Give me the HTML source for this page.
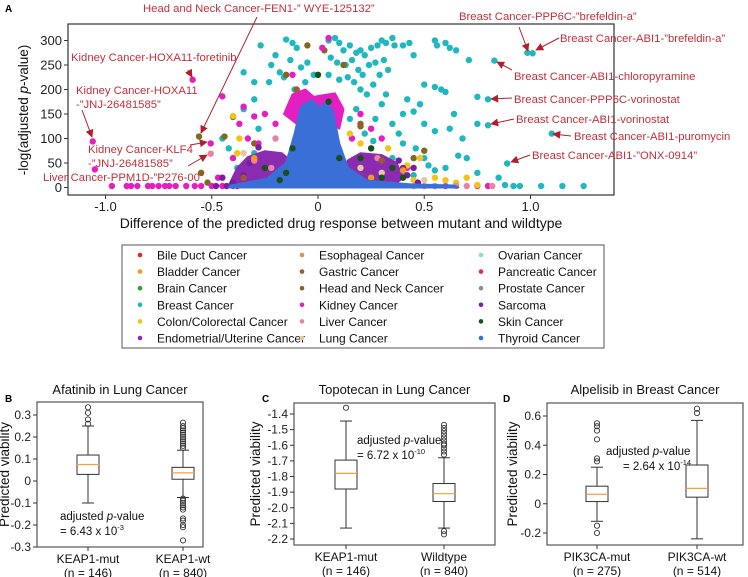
<!DOCTYPE html>
<html><head><meta charset="utf-8"><style>
body{margin:0;background:#fff}
svg{display:block;font-family:"Liberation Sans",Arial,sans-serif}
</style></head><body>
<svg id="fig" width="748" height="577" viewBox="0 0 748 577" xmlns="http://www.w3.org/2000/svg">
<defs><marker id="arr" viewBox="0 0 10 10" refX="9" refY="5" markerWidth="8" markerHeight="8" orient="auto-start-reverse"><path d="M0,0 L10,5 L0,10 z" fill="#b0202c"/></marker></defs>
<g id="volcano"></g>
<g id="legend"></g>
<g id="boxB"></g>
<g id="boxC"></g>
<g id="boxD"></g>
</svg>
<script>
const NS="http://www.w3.org/2000/svg";
function mk(p,t,a,txt){const e=document.createElementNS(NS,t);for(const k in a)e.setAttribute(k,a[k]);if(txt!==undefined)e.textContent=txt;p.appendChild(e);return e;}

// ---------- Volcano data ----------
const cancerTypes=["Bile Duct Cancer","Bladder Cancer","Brain Cancer","Breast Cancer","Colon/Colorectal Cancer","Endometrial/Uterine Cancer","Esophageal Cancer","Gastric Cancer","Head and Neck Cancer","Kidney Cancer","Liver Cancer","Lung Cancer","Ovarian Cancer","Pancreatic Cancer","Prostate Cancer","Sarcoma","Skin Cancer","Thyroid Cancer"];
const cancerColors=["#e8262a","#f39a1e","#2e9e3a","#1fb8c0","#f2c417","#8a2bb0","#d8955e","#9c5a34","#7d6a1c","#e41fc0","#e880a8","#e6c89e","#93e0a6","#e8247a","#8e8e8e","#7a1ea0","#17501e","#3a6fd8"];
const xTicks=[-1.0,-0.5,0,0.5,1.0];
const xTickLabels=["-1.0","-0.5","0","0.5","1.0"];
const yTicks=[0,50,100,150,200,250,300];
const blueMass=[[-0.42,0],[-0.41,4],[-0.24,18],[-0.15,50],[-0.11,110],[-0.08,165],[-0.03,178],[0.01,162],[0.04,176],[0.07,155],[0.10,90],[0.14,41],[0.23,14],[0.45,6],[0.64,4],[0.66,0]];
const magentaMass=[[-0.16,150],[-0.12,190],[-0.06,200],[-0.02,185],[0.02,188],[0.08,192],[0.12,160],[0.1,120],[0.0,150],[-0.1,130]];
const purpleMassL=[[-0.42,4],[-0.38,40],[-0.33,62],[-0.25,74],[-0.17,70],[-0.13,55],[-0.14,20],[-0.2,8],[-0.3,4]];
const purpleMassR=[[0.12,8],[0.14,55],[0.2,70],[0.3,66],[0.37,50],[0.4,20],[0.36,6]];
const breastPts=[[-0.27,290],[-0.15,302],[-0.12,295],[-0.2,270],[-0.22,250],[-0.1,285],[-0.18,235],[-0.13,260],[-0.08,245],[-0.05,255],[-0.23,215],[-0.16,225],[-0.06,215],[-0.11,200],[-0.02,230],[0.05,300],[0.08,305],[0.1,295],[0.12,280],[0.15,290],[0.18,275],[0.2,280],[0.22,270],[0.25,285],[0.28,290],[0.06,265],[0.09,255],[0.13,250],[0.16,260],[0.19,240],[0.21,230],[0.24,250],[0.27,255],[0.3,300],[0.32,295],[0.35,305],[0.05,230],[0.1,220],[0.14,225],[0.17,215],[0.2,200],[0.23,190],[0.26,210],[0.29,230],[0.31,260],[0.33,240],[0.36,290],[0.4,290],[0.43,295],[0.45,270],[0.55,300],[0.56,290],[0.6,295],[0.62,285],[0.65,280],[0.71,260],[0.5,210],[0.55,205],[0.58,200],[0.6,195],[0.64,150],[0.62,120],[0.68,100],[0.66,65],[0.7,60],[0.75,30],[0.85,20],[0.88,5],[0.92,3],[1.05,3],[1.15,3],[1.25,3],[0.95,3],[0.4,150],[0.45,155],[0.5,130],[0.55,115],[0.35,130],[0.38,110],[0.3,170],[0.32,190],[0.42,180],[0.48,170],[0.46,80],[0.5,60],[0.52,45],[0.55,35],[0.6,40],[0.45,25],[0.35,60],[0.4,90],[0.27,140],[0.18,160],[0.15,140],[-0.3,215],[-0.35,235],[-0.3,180],[-0.35,160],[-0.28,120],[-0.42,80],[-0.45,100],[-0.3,70],[-0.38,40],[0.985,275],[1.01,274],[0.83,259],[0.80,180],[0.80,127],[1.10,110],[0.89,49],[0.75,185],[0.75,130],[0.22,110],[0.26,95],[0.3,40],[0.4,30]];
const kidneyPts=[[-0.59,220],[-1.06,94],[-0.505,90],[-1.05,37],[-0.45,186],[-0.35,165],[-0.3,145],[-0.37,130],[-0.25,150],[-0.33,100],[-0.2,130],[-0.28,90],[-0.4,60],[-0.47,20],[-0.97,3],[-0.9,3],[-0.88,3],[-0.85,3],[-0.8,3],[-0.78,3],[-0.75,3],[-0.72,3],[-0.7,3],[-0.67,3],[-0.62,3],[-0.58,3],[-0.55,3],[-0.5,3],[-0.45,3],[-0.4,3],[0.2,150],[0.25,120],[0.05,305],[0.02,285],[0.3,100],[0.16,100],[0.55,3],[0.6,3],[0.75,3],[0.8,3],[0.42,40],[-0.12,230]];
const oliveHN=[[-0.56,104],[-0.4,144],[-0.44,104],[-0.55,30],[-0.52,10],[-0.3,90],[-0.05,290],[0.12,250],[0.03,280],[0.45,60],[0.5,75],[0.2,125],[-0.15,230],[0.35,10],[0.25,40]];
const colonPts=[[-0.4,146],[-0.37,100],[-0.38,70],[-0.33,40],[-0.3,30],[0.15,110],[0.2,90],[0.33,80],[0.35,50],[0.42,45],[0.48,60],[0.55,20],[0.6,15],[0.65,10],[0.7,20],[0.75,5],[0.45,15],[-0.2,30],[-0.25,60]];
const liverPts=[[-0.505,69],[-0.3,55],[-0.2,100],[0.28,60],[0.45,3],[0.5,3],[0.55,3],[0.65,3],[0.7,3],[0.82,3],[-0.22,40]];
const skinPts=[[-0.25,40],[-0.15,30],[-0.12,80],[0.0,230],[0.05,175],[0.1,60],[0.2,60],[0.3,20],[0.35,40],[0.4,20],[-0.18,15],[0.25,80]];
const sarcomaPts=[[-0.45,20],[-0.4,10],[-0.35,25],[-0.32,50],[-0.28,82],[0.38,55],[0.4,40],[0.45,40],[0.42,25],[0.47,10],[-0.48,3],[-0.43,3],[-0.38,3]];
const lungPts=[[-0.35,70],[0.2,40],[0.3,30],[0.5,15]];
const gastricPts=[[-0.35,20],[0.2,130],[0.3,55],[-0.1,200]];
const bladderPts=[[-0.3,60],[0.4,35],[0.25,20]];

(function(){
const g=document.getElementById('volcano');
const L=68,R=614,T=24,B=195;
const X=v=>318+v*212.5, Y=v=>187.5-v*0.49;
mk(g,'text',{x:5,y:12,'font-size':10,'font-weight':'bold',},'A');
const clip=mk(g,'clipPath',{id:'vc'});mk(clip,'rect',{x:L,y:T,width:R-L,height:B-T});
const pg=mk(g,'g',{'clip-path':'url(#vc)',});
function poly(arr,col,name){const p=mk(pg,'polygon',{points:arr.map(d=>X(d[0])+','+Y(d[1])).join(' '),fill:col,stroke:col,'stroke-width':2,'stroke-linejoin':'round'});

}
function pts(arr,ci,name){arr.forEach(d=>{const c=mk(pg,'circle',{cx:X(d[0]),cy:Y(d[1]),r:3.2,fill:cancerColors[ci]});

});}
pts(breastPts,3,'breast-point');
poly(magentaMass,cancerColors[9],'kidney-dense-region');
pts(oliveHN,8,'head-neck-point');
pts(kidneyPts,9,'kidney-point');
pts(colonPts,4,'colon-point');
poly(purpleMassL,cancerColors[5],'endometrial-dense-left');
poly(purpleMassR,cancerColors[5],'endometrial-dense-right');
pts(sarcomaPts,15,'sarcoma-point');
pts(liverPts,10,'liver-point');
pts(lungPts,11,'lung-point');
pts(gastricPts,7,'gastric-point');
pts(bladderPts,1,'bladder-point');
poly(blueMass,cancerColors[17],'thyroid-dense-region');
pts(skinPts,16,'skin-point');
mk(g,'rect',{x:L,y:T,width:R-L,height:B-T,fill:'none',stroke:'#333','stroke-width':1.2,});
xTicks.forEach((t,i)=>{mk(g,'line',{x1:X(t),x2:X(t),y1:B,y2:B+4,stroke:'#333'});
mk(g,'text',{x:X(t),y:B+16,'font-size':13,'text-anchor':'middle',fill:'#222',},xTickLabels[i]);});
yTicks.forEach(t=>{mk(g,'line',{x1:L-4,x2:L,y1:Y(t),y2:Y(t),stroke:'#333'});
mk(g,'text',{x:L-6,y:Y(t)+4.5,'font-size':13,'text-anchor':'end',fill:'#222',},String(t));});
mk(g,'text',{x:341,y:228,'font-size':14,'text-anchor':'middle',fill:'#111',},'Difference of the predicted drug response between mutant and wildtype');
const yt=mk(g,'text',{x:0,y:0,'font-size':13.5,'text-anchor':'middle',fill:'#111',transform:'translate(28,110) rotate(-90)',});
yt.innerHTML='-log(adjusted <tspan font-style="italic">p</tspan>-value)';
const ann=[
 [['Head and Neck Cancer-FEN1-\u201d WYE-125132\u201d'],143,12,[257,17],[201,133]],
 [['Kidney Cancer-HOXA11-foretinib'],71,61,[188,70],[192,77]],
 [['Kidney Cancer-HOXA11','-\u201dJNJ-26481585\u201d'],76,94,[82,110],[92,137]],
 [['Kidney Cancer-KLF4','      -\u201dJNJ-26481585\u201d'],88,153,[190,145],[207,142]],
 [['Liver Cancer-PPM1D-\u201dP276-00\u201d'],43,181,[188,166],[207,155]],
 [['Breast Cancer-PPP6C-\u201dbrefeldin-a\u201d'],459,20,[519,27],[528,51]],
 [['Breast Cancer-ABI1-\u201dbrefeldin-a\u201d'],560,42,[559,38],[536,50]],
 [['Breast Cancer-ABI1-chloropyramine'],514,80,[512,70],[497,62]],
 [['Breast Cancer-PPP6C-vorinostat'],514,103,[512,98],[491,99]],
 [['Breast Cancer-ABI1-vorinostat'],516,123,[514,119],[491,124]],
 [['Breast Cancer-ABI1-puromycin'],574,140,[571,136],[553,134]],
 [['Breast Cancer-ABI1-\u201dONX-0914\u201d'],532,159,[530,155],[511,162]]];
ann.forEach(a=>{a[0].forEach((s,i)=>{mk(g,'text',{x:a[1],y:a[2]+i*14,'font-size':11.3,fill:'#c2303c','xml:space':'preserve',},s);});
mk(g,'line',{x1:a[3][0],y1:a[3][1],x2:a[4][0],y2:a[4][1],stroke:'#b0202c','stroke-width':1,'marker-end':'url(#arr)',});});
})();

// ---------- Legend ----------
(function(){
const g=document.getElementById('legend');
mk(g,'rect',{x:122,y:245,width:482,height:103,fill:'#fff',stroke:'#555',});
const colX=[140,302,481];
cancerTypes.forEach((n,i)=>{const c=Math.floor(i/6),r=i%6,y=255+r*16.6;
const e=mk(g,'g',{});


mk(e,'circle',{cx:colX[c],cy:y,r:2.3,fill:cancerColors[i]});
mk(e,'text',{x:colX[c]+17,y:y+4.5,'font-size':12,fill:'#111'},n);});
})();

// ---------- Box plots ----------
const afatinibGroups=["KEAP1-mut","KEAP1-wt"];
const afatinibN=["(n = 146)","(n = 840)"];
const afatinibStats=[[-0.1,0.03,0.075,0.118,0.25],[-0.075,0.008,0.037,0.062,0.14]];
const afatinibOut=[[0.26,0.28,0.31,0.335],[0.15,0.16,0.17,0.18,0.19,0.2,0.21,0.22,0.23,0.24,0.25,0.265,-0.08,-0.09,-0.1,-0.11,-0.12,-0.13,-0.17,-0.18,-0.2,-0.21,-0.27]];
const afatinibTicks=[-0.3,-0.2,-0.1,0,0.1,0.2,0.3];
const topoGroups=["KEAP1-mut","Wildtype"];
const topoN=["(n = 146)","(n = 840)"];
const topoStats=[[-2.13,-1.88,-1.78,-1.695,-1.445],[-2.13,-1.96,-1.91,-1.845,-1.68]];
const topoOut=[[-1.36],[-1.47,-1.49,-1.51,-1.53,-1.55,-1.57,-1.59,-1.6,-1.62,-1.64,-1.66,-2.15,-2.17]];
const topoTicks=[-2.2,-2.1,-2.0,-1.9,-1.8,-1.7,-1.6,-1.5,-1.4];
const alpGroups=["PIK3CA-mut","PIK3CA-wt"];
const alpN=["(n = 275)","(n = 514)"];
const alpStats=[[-0.12,0.015,0.065,0.12,0.25],[-0.24,0.045,0.105,0.265,0.57]];
const alpOut=[[0.29,0.31,0.44,0.5,0.53,0.55,-0.15,-0.2],[0.62,0.65]];
const alpTicks=[-0.2,0,0.2,0.4,0.6];

function boxPlot(id,o){
const g=document.getElementById(id);
mk(g,'text',{x:o.px,y:402,'font-size':10,'font-weight':'bold',},o.letter);
mk(g,'text',{x:(o.L+o.R)/2,y:394,'font-size':13,'text-anchor':'middle',fill:'#111',},o.title);
const Y=v=>o.y0+(v-o.v0)*(o.y1-o.y0)/(o.v1-o.v0);
mk(g,'rect',{x:o.L,y:o.T,width:o.R-o.L,height:o.B-o.T,fill:'none',stroke:'#555','stroke-width':1.2,});
o.ticks.forEach(t=>{mk(g,'line',{x1:o.L-4,x2:o.L,y1:Y(t),y2:Y(t),stroke:'#333'});
mk(g,'text',{x:o.L-6,y:Y(t)+4,'font-size':12,'text-anchor':'end',fill:'#222',},o.fmt(t));});
mk(g,'text',{x:0,y:0,'font-size':13.5,'text-anchor':'middle',fill:'#111',transform:`translate(${o.L-o.ytOff},${(o.T+o.B)/2}) rotate(-90)`,},'Predicted viability');
o.stats.forEach((s,i)=>{const cx=o.xs[i],w=11;
const bg=mk(g,'g',{});


mk(bg,'line',{x1:cx,x2:cx,y1:Y(s[0]),y2:Y(s[1]),stroke:'#333'});
mk(bg,'line',{x1:cx,x2:cx,y1:Y(s[3]),y2:Y(s[4]),stroke:'#333'});
mk(bg,'line',{x1:cx-6,x2:cx+6,y1:Y(s[0]),y2:Y(s[0]),stroke:'#333'});
mk(bg,'line',{x1:cx-6,x2:cx+6,y1:Y(s[4]),y2:Y(s[4]),stroke:'#333'});
mk(bg,'rect',{x:cx-w,y:Y(s[3]),width:2*w,height:Y(s[1])-Y(s[3]),fill:'#fff',stroke:'#333'});
mk(bg,'line',{x1:cx-w,x2:cx+w,y1:Y(s[2]),y2:Y(s[2]),stroke:'#f0a040','stroke-width':1.2});
o.out[i].forEach(v=>{const c=mk(bg,'circle',{cx:cx,cy:Y(v),r:2.6,fill:'none',stroke:'#333','stroke-width':0.9});

});
mk(g,'line',{x1:cx,x2:cx,y1:o.B,y2:o.B+4,stroke:'#333'});
mk(g,'text',{x:cx,y:o.B+16,'font-size':12,'text-anchor':'middle',fill:'#111',},o.groups[i]);
mk(g,'text',{x:cx,y:o.B+30,'font-size':12,'text-anchor':'middle',fill:'#111',},o.ns[i]);});
const a=mk(g,'text',{x:o.ax,y:o.ay,'font-size':11.5,fill:'#111',});
a.innerHTML='adjusted <tspan font-style="italic">p</tspan>-value';
const b=mk(g,'text',{x:o.ax+o.bdx,y:o.ay+15,'font-size':11.5,fill:'#111',});
b.innerHTML='= '+o.pv+' x 10<tspan font-size="7.5" dy="-5">'+o.pe+'</tspan>';
}
boxPlot('boxB',{letter:'B',px:5,title:'Afatinib in Lung Cancer',L:37,R:203,T:402,B:547,v0:0.3,y0:415,v1:-0.3,y1:547,ticks:afatinibTicks,fmt:t=>t===0?'0':t.toFixed(1),xs:[88,183],stats:afatinibStats,out:afatinibOut,groups:afatinibGroups,ns:afatinibN,ax:60,ay:520,bdx:0,pv:'6.43',pe:'-3',ytOff:28});
boxPlot('boxC',{letter:'C',px:262,title:'Topotecan in Lung Cancer',L:294,R:495,T:403,B:545,v0:-1.4,y0:414,v1:-2.2,y1:539,ticks:topoTicks,fmt:t=>t.toFixed(1),xs:[346,444],stats:topoStats,out:topoOut,groups:topoGroups,ns:topoN,ax:357,ay:444,bdx:0,pv:'6.72',pe:'-10',ytOff:34});
boxPlot('boxD',{letter:'D',px:503,title:'Alpelisib in Breast Cancer',L:547,R:743,T:403,B:545,v0:0.6,y0:416,v1:-0.2,y1:533,ticks:alpTicks,fmt:t=>t===0?'0':t.toFixed(1),xs:[597,697],stats:alpStats,out:alpOut,groups:alpGroups,ns:alpN,ax:606,ay:455,bdx:17,pv:'2.64',pe:'-14',ytOff:30});
</script>
</body></html>
